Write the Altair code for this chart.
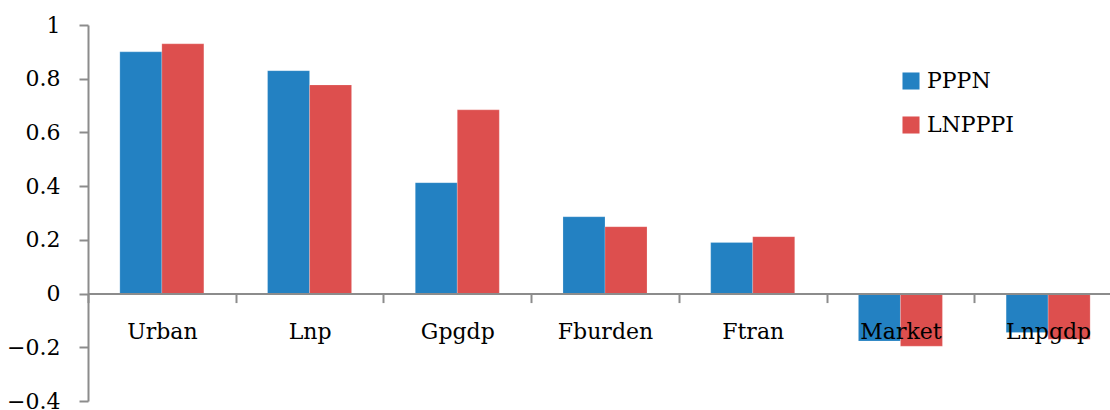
import altair as alt
import pandas as pd

categories = ["Urban", "Lnp", "Gpgdp", "Fburden", "Ftran", "Market", "Lnpgdp"]
series = ["PPPN", "LNPPPI"]
pppn = [0.90, 0.83, 0.413, 0.286, 0.19, -0.177, -0.145]
lnpppi = [0.93, 0.777, 0.684, 0.249, 0.212, -0.196, -0.17]
colors = ["#2381C2", "#DD4F4E"]

rows = []
for i, c in enumerate(categories):
    rows.append({"cat": c, "series": "PPPN", "value": pppn[i]})
    rows.append({"cat": c, "series": "LNPPPI", "value": lnpppi[i]})
df = pd.DataFrame(rows)

H = 376
W = 1034
ymin, ymax = -0.4, 1.0
zero_offset = -H * (0 - ymin) / (ymax - ymin)

FONT = "DejaVu Serif"
FS = 22

chart = alt.Chart(df).mark_bar(stroke="white", strokeWidth=0.5, strokeOpacity=0.4).encode(
    x=alt.X("cat:N", sort=categories,
            scale=alt.Scale(paddingInner=0, paddingOuter=0, range=[0, W]),
            axis=alt.Axis(title=None, labelAngle=0, offset=zero_offset, tickBand="extent",
                          domainColor="#8c8c8c", domainWidth=2, tickColor="#8c8c8c",
                          tickWidth=2, tickSize=9, labelFont=FONT, labelFontSize=FS,
                          labelColor="black", labelPadding=19, zindex=1)),
    xOffset=alt.XOffset("series:N", sort=series,
                        scale=alt.Scale(paddingInner=0, paddingOuter=0.758)),
    y=alt.Y("value:Q", scale=alt.Scale(domain=[ymin, ymax], nice=False, zero=False),
            axis=alt.Axis(title=None, values=[-0.4, -0.2, 0, 0.2, 0.4, 0.6, 0.8, 1.0],
                          format="~g", grid=False, domainColor="#8c8c8c", domainWidth=2,
                          tickColor="#8c8c8c", tickWidth=2, tickSize=9,
                          labelFont=FONT, labelFontSize=FS, labelColor="black",
                          labelPadding=19)),
    color=alt.Color("series:N", sort=series,
                    scale=alt.Scale(domain=series, range=colors),
                    legend=alt.Legend(title=None, orient="none", legendX=812, legendY=45,
                                      symbolType="square", symbolSize=290,
                                      symbolStrokeWidth=0, labelFont=FONT,
                                      labelFontSize=FS, labelColor="black",
                                      rowPadding=22, labelOffset=5)),
).properties(
    width=1022, height=H,
    autosize=alt.AutoSizeParams(type="none"),
    padding={"left": 88, "top": 25, "right": 0, "bottom": 9},
).configure_view(stroke=None)

chart.save("out.html", embed_options={"renderer": "svg", "actions": False})
